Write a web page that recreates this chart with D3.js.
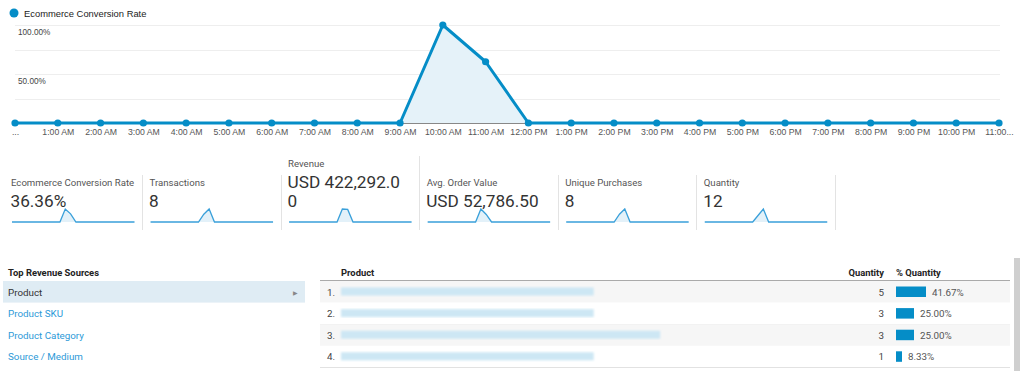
<!DOCTYPE html>
<html><head><meta charset="utf-8">
<script src="https://cdn.jsdelivr.net/npm/d3@7"></script>
<style>
html,body{margin:0;padding:0;background:#fff;}
svg{display:block;}
</style></head>
<body>
<svg id="c" width="1024" height="371"></svg>
<script>
// ---------- DATA ----------
const seriesName = "Ecommerce Conversion Rate";
const hourLabels = ["...","1:00 AM","2:00 AM","3:00 AM","4:00 AM","5:00 AM","6:00 AM","7:00 AM","8:00 AM","9:00 AM","10:00 AM","11:00 AM","12:00 PM","1:00 PM","2:00 PM","3:00 PM","4:00 PM","5:00 PM","6:00 PM","7:00 PM","8:00 PM","9:00 PM","10:00 PM","11:00..."];
const convRate = [0,0,0,0,0,0,0,0,0,0,100,62.5,0,0,0,0,0,0,0,0,0,0,0,0];
const yTicks = [0,25,50,75,100];
const yLabelTicks = [50,100];

const scoreLabels = ["Ecommerce Conversion Rate","Transactions","Revenue","Avg. Order Value","Unique Purchases","Quantity"];
const scoreValues = ["36.36%","8","USD 422,292.00","USD 52,786.50","8","12"];
const sparkTransactions = [0,0,0,0,0,0,0,0,0,0,3,5,0,0,0,0,0,0,0,0,0,0,0,0];
const sparkRevenue = [0,0,0,0,0,0,0,0,0,0,215000,207292,0,0,0,0,0,0,0,0,0,0,0,0];
const sparkAOV = [0,0,0,0,0,0,0,0,0,0,71666.67,41458.4,0,0,0,0,0,0,0,0,0,0,0,0];
const sparkUnique = [0,0,0,0,0,0,0,0,0,0,3,5,0,0,0,0,0,0,0,0,0,0,0,0];
const sparkQuantity = [0,0,0,0,0,0,0,0,0,0,4,8,0,0,0,0,0,0,0,0,0,0,0,0];
const sparkSeries = [convRate, sparkTransactions, sparkRevenue, sparkAOV, sparkUnique, sparkQuantity];

const sourcesTitle = "Top Revenue Sources";
const sources = ["Product","Product SKU","Product Category","Source / Medium"];
const tableHeaders = ["Product","Quantity","% Quantity"];
const rowRanks = ["1.","2.","3.","4."];
const productNameChars = [38,38,48,38]; // names are blurred in the source
const quantities = [5,3,3,1];
const pctQuantity = [41.67,25.00,25.00,8.33];

// ---------- DRAW ----------
const svg = d3.select("#c");
svg.append("rect").attr("width",1024).attr("height",371).attr("fill","#fff");
const blue = "#058dc7";
const chartFont = "'Liberation Sans', Arial, sans-serif";
const uiFont = "Roboto, 'Noto Sans', sans-serif";

// Legend
svg.append("circle").attr("cx",14).attr("cy",13).attr("r",4.5).attr("fill",blue);
svg.append("text").attr("x",24).attr("y",16.5).attr("font-family",chartFont).attr("font-size",9.4)
  .attr("fill","#222").text(seriesName);

// Main chart
const x = d3.scaleLinear().domain([0, hourLabels.length-1]).range([15, 999]);
const y = d3.scaleLinear().domain([0,100]).range([123, 25]);

const g = svg.append("g");
g.selectAll("line.grid").data(yTicks.filter(d=>d>0)).join("line")
  .attr("x1",15).attr("x2",1000).attr("y1",d=>Math.round(y(d))+0.5).attr("y2",d=>Math.round(y(d))+0.5)
  .attr("stroke","#eeeeee").attr("stroke-width",1);
g.selectAll("text.ylab").data(yLabelTicks).join("text")
  .attr("x",18).attr("y",d=>y(d)+10).attr("font-family",chartFont).attr("font-size",8.2)
  .attr("fill","#444").text(d=>d3.format(".2f")(d)+"%");

// x axis labels via d3 axis
const xAxis = d3.axisBottom(x).tickValues(d3.range(hourLabels.length)).tickFormat(i=>hourLabels[i]).tickSize(0).tickPadding(5);
const ax = g.append("g").attr("transform","translate(0,124)").call(xAxis);
ax.select(".domain").remove();
ax.selectAll("text").attr("font-family",chartFont).attr("font-size",8.7).attr("fill","#555");
// baseline
g.append("line").attr("x1",15).attr("x2",999).attr("y1",123.5).attr("y2",123.5).attr("stroke","#888").attr("stroke-width",1);

const area = d3.area().x((d,i)=>x(i)).y0(y(0)).y1(d=>y(d));
const line = d3.line().x((d,i)=>x(i)).y(d=>y(d));
g.append("path").datum(convRate).attr("d",area).attr("fill","#e5f2f9");
g.append("path").datum(convRate).attr("d",line).attr("fill","none").attr("stroke",blue).attr("stroke-width",3).attr("stroke-linejoin","round");
g.selectAll("circle.pt").data(convRate).join("circle")
  .attr("cx",(d,i)=>x(i)).attr("cy",d=>y(d)).attr("r",3.6).attr("fill",blue);

// Scorecards
const cardPitch = 138.55;
const measure = svg.append("text").attr("font-family",uiFont).attr("font-size",17.2).attr("visibility","hidden");
function wrapChars(str, maxW){
  const lines=[]; let cur="";
  for(const ch of str){
    measure.text(cur+ch);
    if(measure.node().getComputedTextLength() > maxW && cur.length){ lines.push(cur); cur=ch; }
    else cur+=ch;
  }
  lines.push(cur); return lines;
}
scoreLabels.forEach((lab,i)=>{
  const left = 11 + i*cardPitch;
  const lines = wrapChars(scoreValues[i], 117);
  const shift = (lines.length-1)*19;
  const cg = svg.append("g");
  cg.append("text").attr("x",left).attr("y",185.5-shift).attr("font-family",uiFont).attr("font-size",9.6)
    .attr("fill","#555").text(lab);
  lines.forEach((ln,j)=>{
    cg.append("text").attr("x",left-0.5).attr("y",206.5-shift+j*19).attr("font-family",uiFont).attr("font-size",17.2)
      .attr("fill","#333").text(ln);
  });
  // divider
  const dx = Math.round(142 + i*138.5)+0.5;
  cg.append("line").attr("x1",dx).attr("x2",dx).attr("y1",175-shift).attr("y2",230)
    .attr("stroke","#e3e3e3").attr("stroke-width",1);
  // sparkline
  const data = sparkSeries[i];
  const sx = d3.scaleLinear().domain([0,data.length-1]).range([12+i*cardPitch, 134.5+i*cardPitch]);
  const sy = d3.scaleLinear().domain([0,d3.max(data)]).range([222,209]);
  cg.append("path").datum(data).attr("d",d3.area().x((d,k)=>sx(k)).y0(sy(0)).y1(d=>sy(d)))
    .attr("fill","#e3f1f9");
  cg.append("path").datum(data).attr("d",d3.line().x((d,k)=>sx(k)).y(d=>sy(d)))
    .attr("fill","none").attr("stroke","#3aa0da").attr("stroke-width",1.3);
});
measure.remove();

// Left table
svg.append("text").attr("x",8).attr("y",276).attr("font-family",uiFont).attr("font-size",9.4)
  .attr("font-weight","bold").attr("fill","#222").text(sourcesTitle);
const rowH = 21.6;
const rowTop = 281;
const lt = svg.append("g");
lt.append("rect").attr("x",3).attr("y",rowTop).attr("width",302).attr("height",rowH).attr("fill","#dfecf4");
lt.selectAll("text.src").data(sources).join("text")
  .attr("x",8).attr("y",(d,i)=>rowTop+i*rowH+14.5)
  .attr("font-family",uiFont).attr("font-size",9.8)
  .attr("fill",(d,i)=>i===0?"#333":"#2d9ad8").text(d=>d);
lt.append("text").attr("x",293).attr("y",rowTop+13.5).attr("font-family","'DejaVu Sans',sans-serif")
  .attr("font-size",6).attr("fill","#888").text("\u25B6");

// Right table
const rt = svg.append("g");
const tL = 320, tR = 1010;
const qtyRight = 884, pctX = 896;
const barScale = d3.scaleLinear().domain([0,100]).range([0,72]);
rt.append("text").attr("x",341).attr("y",276).attr("font-family",uiFont).attr("font-size",9.4).attr("font-weight","bold").attr("fill","#222").text(tableHeaders[0]);
rt.append("text").attr("x",qtyRight).attr("y",276).attr("text-anchor","end").attr("font-family",uiFont).attr("font-size",9.4).attr("font-weight","bold").attr("fill","#222").text(tableHeaders[1]);
rt.append("text").attr("x",pctX).attr("y",276).attr("font-family",uiFont).attr("font-size",9.4).attr("font-weight","bold").attr("fill","#222").text(tableHeaders[2]);

const defs = svg.append("defs");
defs.append("filter").attr("id","blur").append("feGaussianBlur").attr("stdDeviation",1.2);

rowRanks.forEach((r,i)=>{
  const top = rowTop + i*rowH;
  rt.append("rect").attr("x",tL).attr("y",top).attr("width",tR-tL).attr("height",rowH)
    .attr("fill", i%2===0 ? "#f6f6f6" : "#ffffff");
  rt.append("line").attr("x1",tL).attr("x2",tR).attr("y1",Math.round(top+rowH)+0.5).attr("y2",Math.round(top+rowH)+0.5)
    .attr("stroke","#e2e2e2");
  rt.append("text").attr("x",327).attr("y",top+14.5).attr("font-family",uiFont).attr("font-size",9.8).attr("fill","#444").text(r);
  // blurred product name
  rt.append("rect").attr("x",341).attr("y",top+6.5).attr("width",productNameChars[i]*6.65).attr("height",8)
    .attr("fill","#cde7f4").attr("filter","url(#blur)");
  rt.append("text").attr("x",qtyRight).attr("y",top+14.5).attr("text-anchor","end").attr("font-family",uiFont).attr("font-size",9.8).attr("fill","#444").text(quantities[i]);
  const bw = barScale(pctQuantity[i]);
  rt.append("rect").attr("x",pctX).attr("y",top+5.5).attr("width",bw).attr("height",10.5).attr("fill",blue);
  rt.append("text").attr("x",pctX+bw+6).attr("y",top+14.5).attr("font-family",uiFont).attr("font-size",9.8).attr("fill","#555")
    .text(d3.format(".2f")(pctQuantity[i])+"%");
});
rt.append("line").attr("x1",tL).attr("x2",tR).attr("y1",280.5).attr("y2",280.5).attr("stroke","#aaa");
// scrollbar
svg.append("rect").attr("x",1014).attr("y",258).attr("width",6).attr("height",113).attr("fill","#cfcfcf");
</script>
</body></html>
